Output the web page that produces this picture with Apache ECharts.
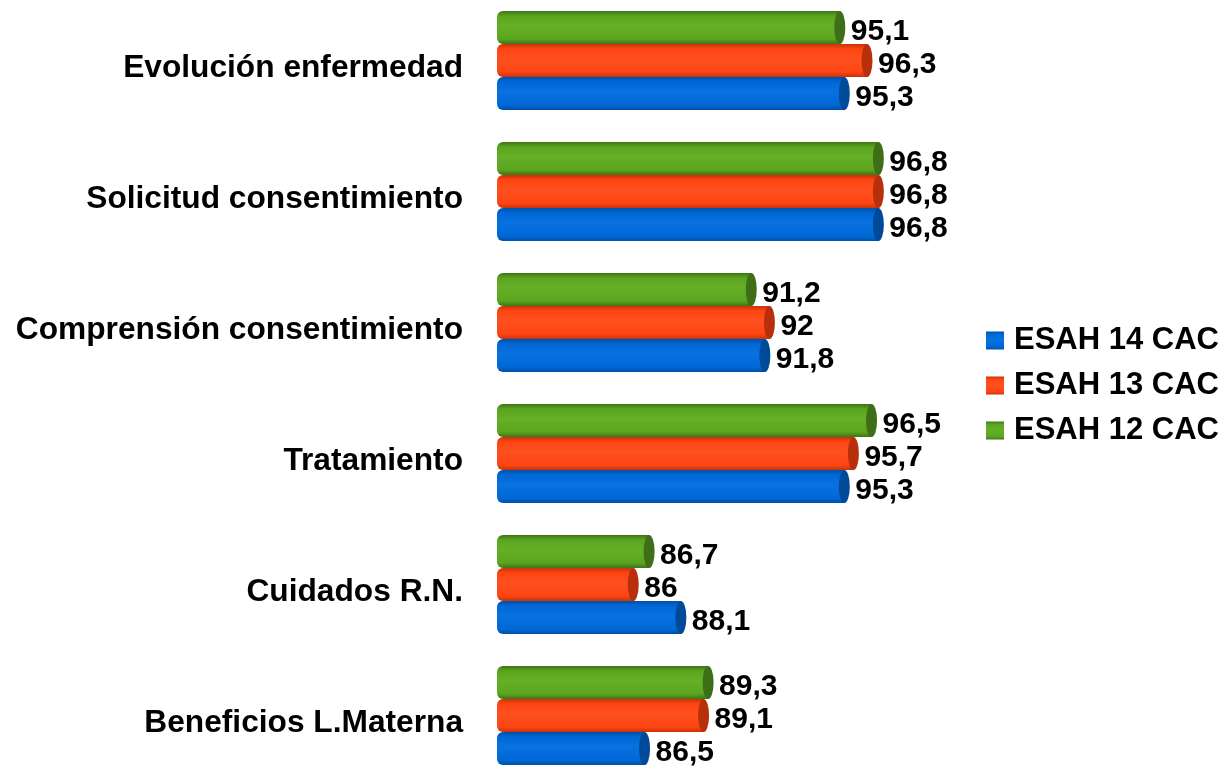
<!DOCTYPE html>
<html>
<head>
<meta charset="utf-8">
<script src="https://cdn.jsdelivr.net/npm/echarts@6/dist/echarts.min.js"></script>
<style>
  html, body { margin: 0; padding: 0; background: #fff; overflow: hidden; width: 1227px; height: 771px; }
  /* el area del grafico empieza un poco por encima de la ventana */
  #main { position: absolute; left: 0; top: -5px; width: 1227px; height: 786px; }
</style>
</head>
<body>
<div id="main"></div>
<script>
  // categorias (de arriba a abajo)
  const categorias = ['Evolución enfermedad', 'Solicitud consentimiento', 'Comprensión consentimiento',
    'Tratamiento', 'Cuidados R.N.', 'Beneficios L.Materna']
  const esah12 = [95.1, 96.8, 91.2, 96.5, 86.7, 89.3]
  const esah13 = [96.3, 96.8, 92, 95.7, 86, 89.1]
  const esah14 = [95.3, 96.8, 91.8, 95.3, 88.1, 86.5]

  const fuente = 'Liberation Sans, Arial, sans-serif'
  const ancho = 33

  // cilindro: degradado vertical con bordes oscuros
  function cilindro (claro, medio, oscuro) {
    return new echarts.graphic.LinearGradient(0, 0, 0, 1, [
      { offset: 0, color: oscuro },
      { offset: 0.15, color: medio },
      { offset: 0.45, color: claro },
      { offset: 0.85, color: medio },
      { offset: 1, color: oscuro }
    ])
  }

  const series = [
    { name: 'ESAH 12 CAC', data: esah12, color: '#5aa41f', fill: cilindro('#66b028', '#5aa41f', '#3f7416'), tapa: '#3e6e17' },
    { name: 'ESAH 13 CAC', data: esah13, color: '#fe4512', fill: cilindro('#ff5020', '#fe4512', '#c8330a'), tapa: '#b8300b' },
    { name: 'ESAH 14 CAC', data: esah14, color: '#0068d6', fill: cilindro('#0a72e0', '#0068d6', '#0050a8'), tapa: '#004a9a' }
  ]

  const barras = series.map(s => ({
    name: s.name,
    type: 'bar',
    data: s.data,
    barWidth: ancho,
    barGap: '0%',
    z: 2,
    itemStyle: { color: s.fill, borderRadius: [6, 0, 0, 6] },
    label: {
      show: true,
      position: 'right',
      distance: 11,
      offset: [0, 4],
      color: '#000',
      fontFamily: fuente,
      fontWeight: 'bold',
      fontSize: 30,
      formatter: p => String(p.value).replace('.', ',')
    }
  }))

  const tapas = series.map(s => ({
    name: s.name,
    type: 'pictorialBar',
    data: s.data,
    barWidth: ancho,
    barGap: '0%',
    symbol: 'circle',
    symbolSize: [11, ancho],
    symbolPosition: 'end',
    symbolOffset: ['50%', 0],
    z: 3,
    itemStyle: { color: s.tapa },
    silent: true
  }))

  const myChart = echarts.init(document.getElementById('main'))

  const option = {
    animation: false,
    color: series.map(s => s.color),
    grid: { left: 497, right: 276, top: 0, bottom: 0, containLabel: false },
    legend: {
      orient: 'vertical',
      left: 981,
      top: 325,
      itemWidth: 18,
      itemHeight: 18,
      itemGap: 14,
      icon: 'rect',
      data: ['ESAH 14 CAC', 'ESAH 13 CAC', 'ESAH 12 CAC'],
      textStyle: { fontFamily: fuente, fontWeight: 'bold', fontSize: 31, color: '#000', padding: [0, 0, 0, 5] }
    },
    xAxis: {
      type: 'value',
      min: 80,
      max: 100,
      show: false
    },
    yAxis: {
      type: 'category',
      data: categorias,
      inverse: true,
      axisLine: { show: false },
      axisTick: { show: false },
      axisLabel: {
        margin: 34,
        verticalAlign: 'top',
        lineHeight: 16,
        color: '#000',
        fontFamily: fuente,
        fontWeight: 'bold',
        fontSize: 31.7
      }
    },
    series: barras.concat(tapas)
  }

  myChart.setOption(option)
</script>
</body>
</html>
